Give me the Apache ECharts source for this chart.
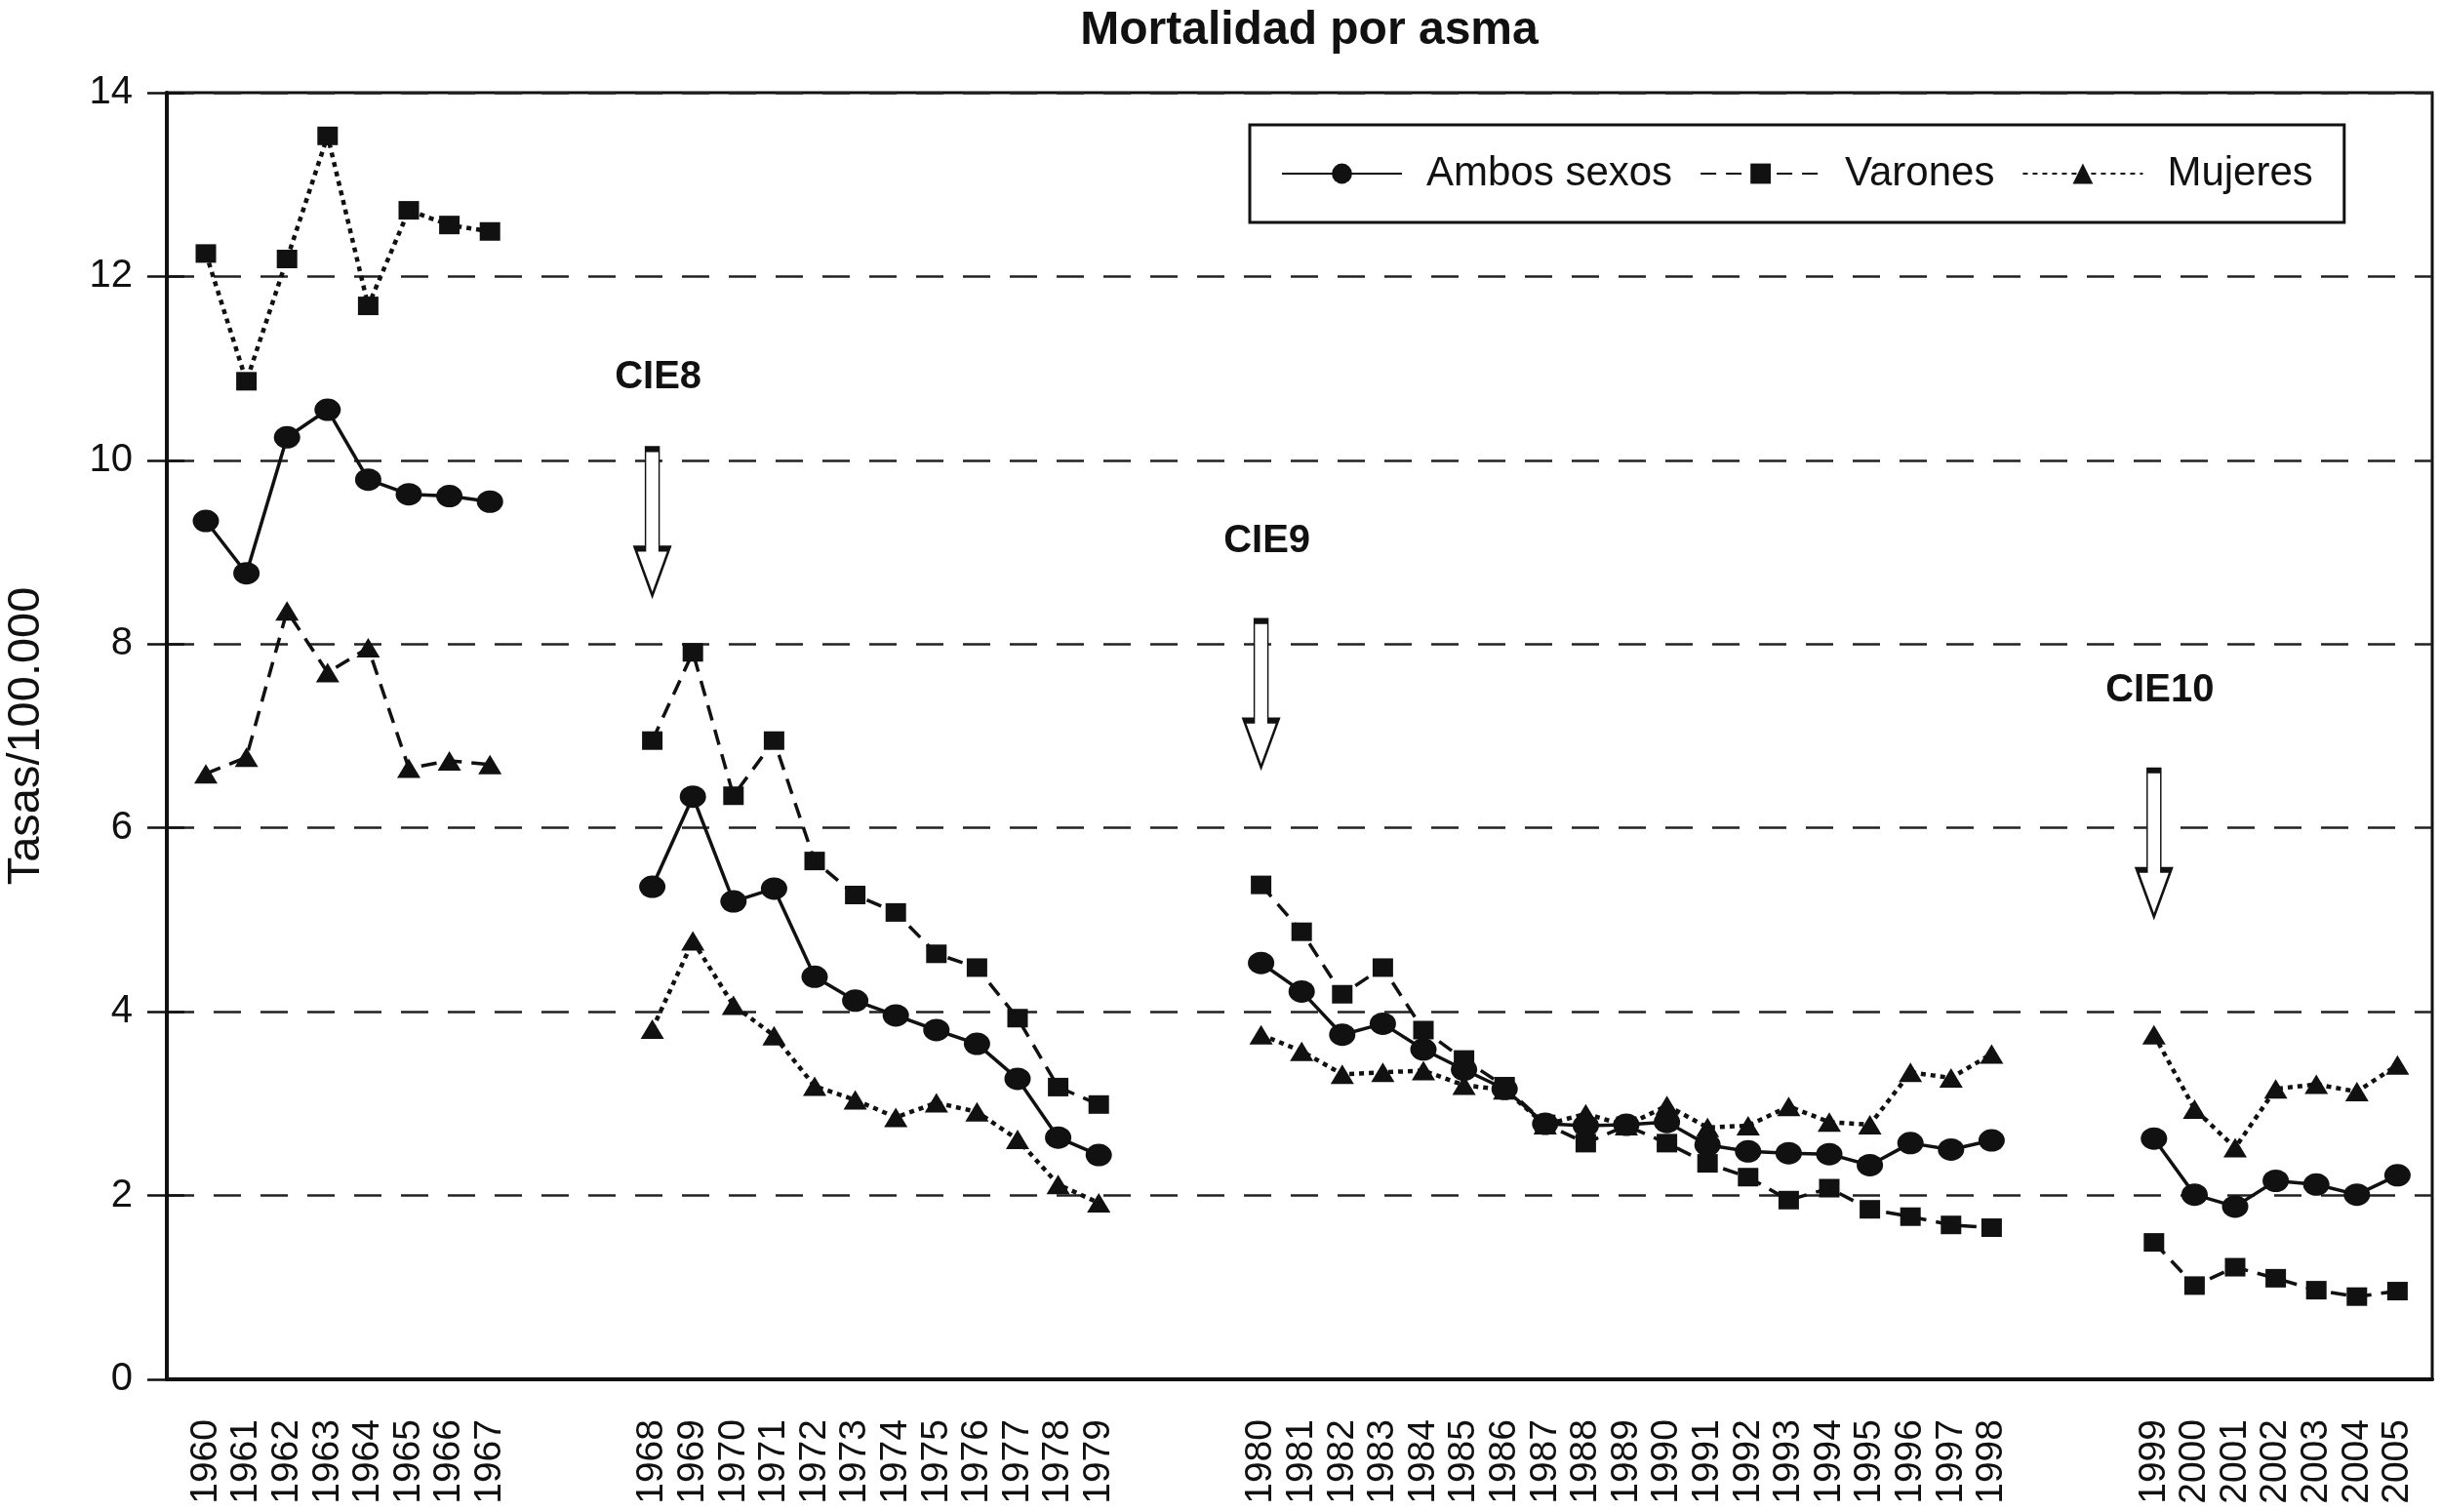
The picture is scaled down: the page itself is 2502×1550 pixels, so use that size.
<!DOCTYPE html>
<html>
<head>
<meta charset="utf-8">
<script src="https://cdn.jsdelivr.net/npm/echarts@6/dist/echarts.min.js"></script>
<style>html,body{margin:0;padding:0;background:#fff;}#main{width:2502px;height:1550px;}</style>
</head>
<body>
<div id="main"></div>
<script>
// ---- data ----
const years = [1960,1961,1962,1963,1964,1965,1966,1967,
  1968,1969,1970,1971,1972,1973,1974,1975,1976,1977,1978,1979,
  1980,1981,1982,1983,1984,1985,1986,1987,1988,1989,1990,1991,1992,1993,1994,1995,1996,1997,1998,
  1999,2000,2001,2002,2003,2004,2005];
const ambos = [9.34,8.77,10.25,10.55,9.79,9.63,9.61,9.55,
  5.36,6.34,5.20,5.34,4.38,4.12,3.96,3.80,3.65,3.27,2.63,2.44,
  4.53,4.22,3.75,3.87,3.59,3.37,3.16,2.78,2.76,2.77,2.80,2.55,2.48,2.46,2.45,2.33,2.57,2.50,2.60,
  2.62,2.01,1.88,2.16,2.12,2.01,2.22];
const varones = [12.25,10.86,12.19,13.53,11.68,12.72,12.56,12.49,
  6.95,7.91,6.35,6.95,5.64,5.27,5.08,4.63,4.48,3.93,3.18,2.99,
  5.38,4.87,4.19,4.48,3.80,3.48,3.19,2.78,2.57,2.76,2.57,2.35,2.20,1.95,2.08,1.85,1.77,1.68,1.65,
  1.49,1.02,1.22,1.10,0.97,0.90,0.96];
const mujeres = [6.59,6.77,8.36,7.69,7.96,6.65,6.73,6.69,
  3.81,4.77,4.07,3.74,3.19,3.04,2.85,3.01,2.91,2.61,2.12,1.92,
  3.75,3.57,3.32,3.34,3.36,3.20,3.15,2.77,2.89,2.76,2.98,2.74,2.76,2.97,2.80,2.77,3.34,3.28,3.54,
  3.75,2.94,2.52,3.16,3.21,3.13,3.42];
const yTicks = [0,2,4,6,8,10,12,14];
// CIE revision annotations
const cieLabels = ['CIE8','CIE9','CIE10'];
const cieYears = [1968,1980,1999];
const cieLabelValue = [10.9,9.12,7.49];
const cieArrowTop = [10.12,8.25,6.63];
const cieArrowTip = [8.53,6.66,5.03];
const firstPeriodEnd = 1967;

// ---- categories with gaps before each CIE revision ----
const cats = [];
let g = 0;
cats.push('gap' + (g++));
years.forEach(y => {
  if (cieYears.indexOf(y) >= 0) { for (let k = 0; k < 3; k++) cats.push('gap' + (g++)); }
  cats.push(String(y));
});
cats.push('gap' + (g++));

function seriesData(vals, keep) {
  return cats.map(c => {
    if (c.indexOf('gap') === 0) return null;
    const y = +c;
    return keep(y) ? vals[years.indexOf(y)] : null;
  });
}
const later = y => y > firstPeriodEnd;
const early = y => y <= firstPeriodEnd;

const sans = "'Liberation Sans', Arial, Helvetica, sans-serif";
const dashed = {type:[16,10], width:3.5, color:'#111'};
const dotted = {type:[5,5], width:4.5, color:'#111'};
const solid = {type:'solid', width:3.5, color:'#111'};
const sqSym = {symbol:'rect', symbolSize:[21,19]};
const triSym = {symbol:'triangle', symbolSize:[24,20]};

const arrowPath = 'path://M10.5 0 L24.5 0 L24.5 102 L35 102 L17.5 150 L0 102 L10.5 102 Z';
const markData = [];
cieLabels.forEach((lab, i) => {
  markData.push({
    coord: [String(cieYears[i]), (cieArrowTop[i] + cieArrowTip[i]) / 2],
    symbol: arrowPath, symbolSize: [35, 150],
    itemStyle: {color:'#fff', borderColor:'#111', borderWidth:3},
    label: {show:false}
  });
  markData.push({
    coord: [String(cieYears[i]), cieLabelValue[i]],
    symbol: 'rect', symbolSize: 1,
    itemStyle: {color:'rgba(0,0,0,0)'},
    label: {show:true, position:'inside', formatter: lab, offset:[6,0],
      fontSize:40, fontWeight:'bold', fontFamily:sans, color:'#111'}
  });
});

const yBase = {type: 'value', min: yTicks[0], max: yTicks[yTicks.length - 1], interval: 2};

const chart = echarts.init(document.getElementById('main'));
chart.setOption({
  animation: false,
  backgroundColor: '#fff',
  title: {
    text: 'Mortalidad por asma', left: 1337, top: 3, textAlign: 'center',
    textStyle: {fontSize: 48, fontWeight: 'bold', fontFamily: sans, color: '#111'}
  },
  legend: {
    data: ['Ambos sexos', 'Varones', 'Mujeres'],
    left: 1281, top: 128,
    padding: [29, 32],
    itemWidth: 123, itemHeight: 26, itemGap: 28,
    borderColor: '#111', borderWidth: 3,
    textStyle: {fontSize: 42, fontFamily: sans, color: '#111', padding: [0, 0, 0, 20]}
  },
  grid: [
    // frame grid: axes, border, gridlines
    {left: 171, right: 9, top: 95, bottom: 136, show: true, borderColor: '#111', borderWidth: 3,
      containLabel: false, outerBoundsMode: 'none'},
    // data grid: category positions
    {left: 169.4, right: 3, top: 95, bottom: 136, show: false, containLabel: false, outerBoundsMode: 'none'}
  ],
  xAxis: [{
    gridIndex: 0, type: 'value', min: 0, max: 1, show: true,
    axisLine: {show: true, lineStyle: {color: '#111', width: 4}},
    axisTick: {show: false}, axisLabel: {show: false}, splitLine: {show: false}
  }, {
    gridIndex: 1, type: 'category', data: cats, boundaryGap: false,
    axisLine: {show: false}, axisTick: {show: false}, splitLine: {show: false},
    axisLabel: {
      interval: 0, rotate: 90, margin: 41, fontSize: 39, fontFamily: sans, color: '#111',
      formatter: v => (v.indexOf('gap') === 0 ? '' : v)
    }
  }],
  yAxis: [Object.assign({
    gridIndex: 0,
    name: 'Tasas/100.000', nameLocation: 'middle', nameGap: 120,
    nameTextStyle: {fontSize: 47, fontFamily: sans, color: '#111'},
    axisLine: {show: true, lineStyle: {color: '#111', width: 4}},
    axisTick: {show: true, inside: false, length: 20, lineStyle: {color: '#111', width: 2.5}},
    axisLabel: {margin: 35, fontSize: 40, fontFamily: sans, color: '#111'},
    splitLine: {show: true, lineStyle: {type: [28, 20], color: '#222', width: 2.5}}
  }, yBase), Object.assign({
    gridIndex: 0, position: 'left',
    axisLine: {show: false}, axisLabel: {show: false}, splitLine: {show: false},
    axisTick: {show: true, inside: true, length: 18, lineStyle: {color: '#111', width: 2.5}}
  }, yBase), Object.assign({
    gridIndex: 1, show: false, splitLine: {show: false}
  }, yBase)],
  series: [
    Object.assign({name: 'Varones', type: 'line', xAxisIndex: 1, yAxisIndex: 2,
      data: seriesData(varones, later), lineStyle: dashed, itemStyle: {color: '#111'}, z: 2}, sqSym),
    Object.assign({name: 'Varones 1960-1967', type: 'line', xAxisIndex: 1, yAxisIndex: 2,
      data: seriesData(varones, early), lineStyle: dotted, itemStyle: {color: '#111'}, z: 2}, sqSym),
    Object.assign({name: 'Mujeres', type: 'line', xAxisIndex: 1, yAxisIndex: 2,
      data: seriesData(mujeres, later), lineStyle: dotted, itemStyle: {color: '#111'}, z: 2}, triSym),
    Object.assign({name: 'Mujeres 1960-1967', type: 'line', xAxisIndex: 1, yAxisIndex: 2,
      data: seriesData(mujeres, early), lineStyle: dashed, itemStyle: {color: '#111'}, z: 2}, triSym),
    {name: 'Ambos sexos', type: 'line', xAxisIndex: 1, yAxisIndex: 2,
      data: seriesData(ambos, () => true), lineStyle: solid,
      symbol: 'circle', symbolSize: [27, 23], itemStyle: {color: '#111'}, z: 3,
      markPoint: {data: markData, z: 5}}
  ]
});
</script>
</body>
</html>
